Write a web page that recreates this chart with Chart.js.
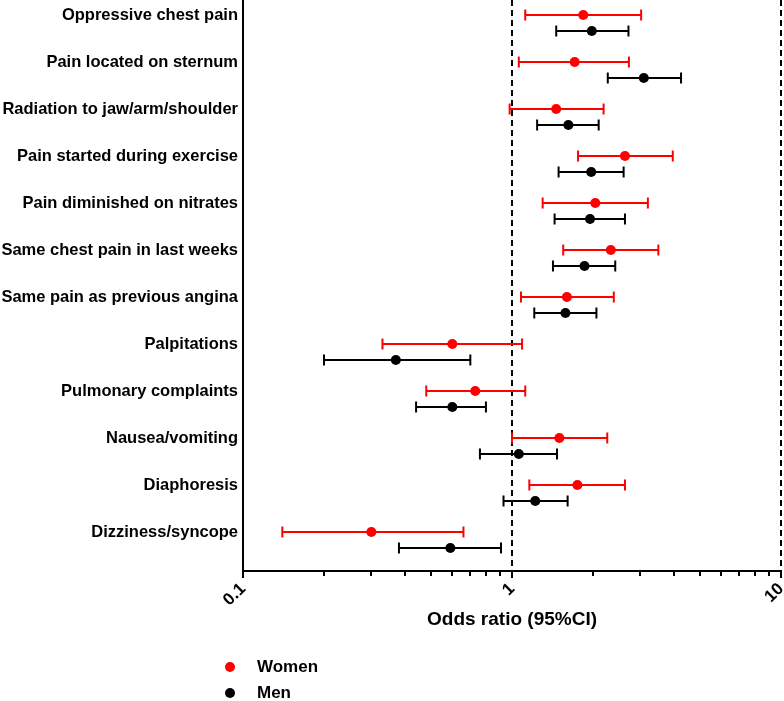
<!DOCTYPE html>
<html>
<head>
<meta charset="utf-8">
<script src="https://cdn.jsdelivr.net/npm/chart.js@4"></script>
<style>
  body { margin: 0; background: #fff; }
  #wrap { position: relative; width: 784px; height: 701px; }
  #leyenda { position: absolute; left: 222px; top: 654px; font: bold 17px "Liberation Sans", Arial, sans-serif; color: #000; }
  #leyenda div { height: 26px; line-height: 26px; display: flex; align-items: center; }
  #leyenda span.punto { display: inline-block; width: 10px; height: 10px; border-radius: 50%; margin-left: 3px; margin-right: 22px; }
</style>
</head>
<body>
<div id="wrap">
  <canvas id="forest"></canvas>
  <div id="leyenda"></div>
</div>
<script>
// categorias (de arriba hacia abajo)
const sintomas = [
  "Oppressive chest pain",
  "Pain located on sternum",
  "Radiation to jaw/arm/shoulder",
  "Pain started during exercise",
  "Pain diminished on nitrates",
  "Same chest pain in last weeks",
  "Same pain as previous angina",
  "Palpitations",
  "Pulmonary complaints",
  "Nausea/vomiting",
  "Diaphoresis",
  "Dizziness/syncope"
];

// Mujeres: odds ratio e intervalo de confianza 95%
const womenOR   = [1.84, 1.71, 1.46, 2.63, 2.04, 2.33, 1.60, 0.60, 0.73, 1.50, 1.75, 0.30];
const womenLow  = [1.12, 1.06, 0.98, 1.76, 1.30, 1.55, 1.08, 0.33, 0.48, 1.00, 1.16, 0.14];
const womenHigh = [3.02, 2.72, 2.19, 3.96, 3.20, 3.50, 2.39, 1.09, 1.12, 2.26, 2.63, 0.66];

// Hombres
const menOR   = [1.98, 3.09, 1.62, 1.97, 1.95, 1.86, 1.58, 0.37, 0.60, 1.06, 1.22, 0.59];
const menLow  = [1.46, 2.27, 1.24, 1.49, 1.44, 1.42, 1.21, 0.20, 0.44, 0.76, 0.93, 0.38];
const menHigh = [2.71, 4.25, 2.10, 2.60, 2.63, 2.42, 2.06, 0.70, 0.80, 1.47, 1.61, 0.91];

// ticks del eje x (logaritmico)
const xTicks = [0.1, 0.2, 0.3, 0.4, 0.5, 0.6, 0.7, 0.8, 0.9, 1, 2, 3, 4, 5, 6, 7, 8, 9, 10];
const xMajor = [0.1, 1, 10];

const ROJO = "#ff0000";
const NEGRO = "#000000";
const FUENTE = "'Liberation Sans', Arial, sans-serif";
const DESPLAZ = 0.34; // separacion hombres respecto a mujeres dentro de cada fila

const grupos = [
  { label: "Women", color: ROJO,  or: womenOR, lo: womenLow, hi: womenHigh, off: 0 },
  { label: "Men",   color: NEGRO, or: menOR,   lo: menLow,   hi: menHigh,   off: DESPLAZ }
];

const datasets = [];
// barras de error (una por fila y grupo)
grupos.forEach(g => {
  sintomas.forEach((s, i) => {
    datasets.push({
      label: g.label + " CI",
      data: [{ x: g.lo[i], y: i + g.off }, { x: g.hi[i], y: i + g.off }],
      showLine: true,
      borderColor: g.color,
      borderWidth: 2,
      pointStyle: "line",
      rotation: 90,
      pointRadius: 5.5,
      pointBorderWidth: 2,
      pointBorderColor: g.color,
      clip: false
    });
  });
});
// puntos del odds ratio
grupos.forEach(g => {
  datasets.push({
    label: g.label,
    data: g.or.map((v, i) => ({ x: v, y: i + g.off })),
    pointRadius: 5,
    pointBorderWidth: 0,
    backgroundColor: g.color,
    borderColor: g.color,
    clip: false
  });
});

const ctx = document.getElementById("forest").getContext("2d");
const chart = new Chart(ctx, {
  type: "scatter",
  data: { datasets: datasets },
  options: {
    responsive: true,
    maintainAspectRatio: false,
    animation: false,
    layout: { autoPadding: false, padding: { top: 0, right: 3, bottom: 68, left: 0 } },
    plugins: {
      legend: { display: false },
      tooltip: { enabled: false }
    },
    scales: {
      x: {
        type: "logarithmic",
        min: 0.1,
        max: 10,
        afterBuildTicks: axis => {
          axis.ticks = xTicks.map(v => ({ value: v, major: xMajor.includes(v) }));
        },
        afterFit: axis => {
          axis.height = 62;
          axis.paddingLeft = 0;
          axis.paddingRight = 0;
        },
        ticks: {
          autoSkip: false,
          minRotation: 45,
          maxRotation: 45,
          padding: 1,
          color: NEGRO,
          font: { family: FUENTE, size: 17, weight: "bold" },
          callback: v => (xMajor.includes(v) ? String(v) : "")
        },
        grid: {
          drawOnChartArea: true,
          lineWidth: 2,
          color: c => (c.tick && (c.tick.value === 1 || c.tick.value === 10) ? NEGRO : "rgba(0,0,0,0)"),
          tickLength: 7,
          tickWidth: 2,
          tickColor: NEGRO,
          tickBorderDash: c => (c.tick && xMajor.includes(c.tick.value) ? [] : [4, 30])
        },
        border: { display: true, color: NEGRO, width: 2, dash: [6, 4] },
        title: {
          display: true,
          text: "Odds ratio (95%CI)",
          color: NEGRO,
          font: { family: FUENTE, size: 19, weight: "bold" },
          padding: { top: 0, bottom: 2 }
        }
      },
      y: {
        type: "linear",
        reverse: true,
        min: -0.32,
        max: 11.83,
        afterBuildTicks: axis => {
          axis.ticks = sintomas.map((s, i) => ({ value: i }));
        },
        afterFit: axis => {
          axis.width = 243;
          axis.paddingTop = 0;
          axis.paddingBottom = 0;
        },
        ticks: {
          autoSkip: false,
          padding: 5,
          color: NEGRO,
          font: { family: FUENTE, size: 16.5, weight: "bold" },
          callback: v => sintomas[v]
        },
        grid: { display: false, drawTicks: false },
        border: { display: true, color: NEGRO, width: 2 }
      }
    }
  }
});

// leyenda en HTML (vertical, abajo a la izquierda)
const leyenda = document.getElementById("leyenda");
grupos.forEach(g => {
  const fila = document.createElement("div");
  const punto = document.createElement("span");
  punto.className = "punto";
  punto.style.background = g.color;
  fila.appendChild(punto);
  fila.appendChild(document.createTextNode(g.label));
  leyenda.appendChild(fila);
});
</script>
</body>
</html>
